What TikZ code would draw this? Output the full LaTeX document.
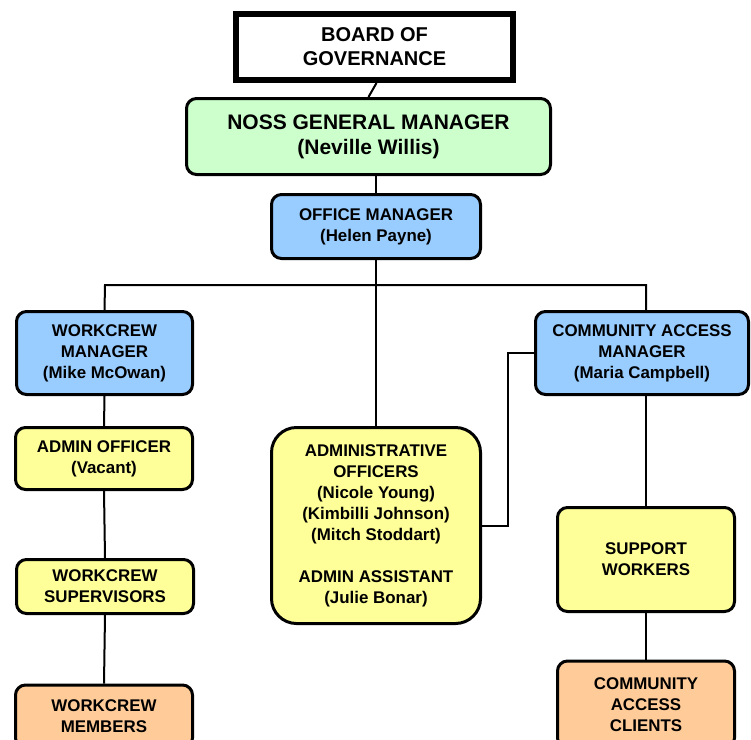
\documentclass[tikz,border=0pt]{standalone}
\usepackage{fontspec}
\setmainfont{Liberation Sans}
\definecolor{gmgreen}{HTML}{CCFFCC}
\definecolor{mgrblue}{HTML}{99CCFF}
\definecolor{staffyellow}{HTML}{FFFF99}
\definecolor{clientorange}{HTML}{FFCC99}
\tikzset{
  box/.style={draw=black, line width=3pt, rounded corners=10pt, align=center, inner sep=2pt,
    font=\bfseries\fontsize{16.9}{21}\selectfont},
  boardbox/.style={draw=black, line width=6pt, fill=white, align=center,
    font=\bfseries\fontsize{20}{24}\selectfont},
  link/.style={draw=black, line width=2pt},
}
\begin{document}
\begin{tikzpicture}[x=1pt,y=-1pt]
\useasboundingbox (0,0) rectangle (751,739);
\clip (0,0) rectangle (751,739);
\fill[white] (0,0) rectangle (751,739);
% nodes
\node[boardbox, minimum width=277pt, minimum height=66pt] (board) at (374.5,47) {BOARD OF\\GOVERNANCE};
\node[box, fill=gmgreen, minimum width=364pt, minimum height=76pt, font=\bfseries\fontsize{21}{25}\selectfont] (gm) at (368.5,136.5) {NOSS GENERAL MANAGER\\(Neville Willis)};
\node[box, fill=mgrblue, minimum width=209pt, minimum height=64pt] (office) at (376,226.5) {OFFICE MANAGER\\(Helen Payne)};
\node[box, fill=mgrblue, minimum width=176pt, minimum height=83pt] (wm) at (104.5,353) {WORKCREW\\MANAGER\\(Mike McOwan)};
\node[box, fill=mgrblue, minimum width=213pt, minimum height=83pt] (cam) at (642,353) {COMMUNITY ACCESS\\MANAGER\\(Maria Campbell)};
\node[box, fill=staffyellow, minimum width=177pt, minimum height=62pt] (ao) at (104,458.5) {ADMIN OFFICER\\(Vacant)};
\node[box, fill=staffyellow, minimum width=177pt, minimum height=54pt] (ws) at (105,586.5) {WORKCREW\\SUPERVISORS};
\node[box, fill=clientorange, minimum width=177pt, minimum height=63pt] (wmem) at (104,716.5) {WORKCREW\\MEMBERS};
\node[box, fill=staffyellow, rounded corners=25pt, minimum width=209pt, minimum height=196pt] (aos) at (376,525.5) {ADMINISTRATIVE\\OFFICERS\\(Nicole Young)\\(Kimbilli Johnson)\\(Mitch Stoddart)\\[21pt]ADMIN ASSISTANT\\(Julie Bonar)};
\node[box, fill=staffyellow, minimum width=177pt, minimum height=104pt] (sw) at (646,559.5) {SUPPORT\\WORKERS};
\node[box, fill=clientorange, minimum width=177pt, minimum height=87pt] (cac) at (646,704.5) {COMMUNITY\\ACCESS\\CLIENTS};
% bus
\coordinate (busL) at (105,285);
\coordinate (busR) at (646,285);
% connectors
\draw[link] ([xshift=2pt]board.south) -- ([xshift=0pt]gm.north);
\draw[link] (office.north |- gm.south) -- (office.north);
\draw[link] (office.south) -- (aos.north);
\draw[link] (wm.north) -- (busL) -- (busR) -- (busR |- cam.north);
\draw[link] (wm.south) -- (ao.north);
\draw[link] (ao.south) -- (ws.north);
\draw[link] (ws.south) -- (wmem.north);
\draw[link] (aos.east) -- ++(26,0) |- (cam.west);
\draw[link] (sw.north |- cam.south) -- (sw.north);
\draw[link] (sw.south) -- (cac.north);
\end{tikzpicture}
\end{document}
